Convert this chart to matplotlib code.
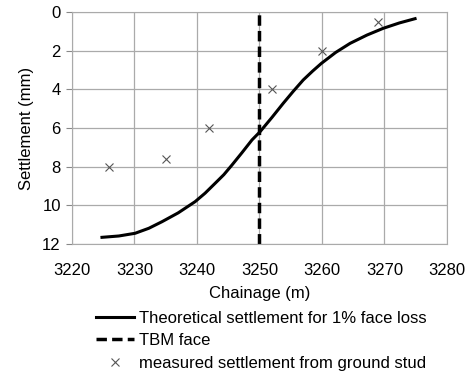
import numpy as np
import matplotlib.pyplot as plt

plt.rcParams['font.family'] = ['Liberation Sans', 'DejaVu Sans']
plt.rcParams['font.size'] = 12

# theoretical settlement curve
chain_theory = [3224.8, 3227.5, 3230.1, 3232.3, 3234.4, 3237.0, 3239.7, 3241.3,
                3242.9, 3244.3, 3245.6, 3247.2, 3248.8, 3250.1, 3252.0, 3253.8,
                3255.4, 3257.0, 3258.5, 3259.9, 3262.2, 3264.5, 3267.2, 3269.8,
                3272.4, 3274.9]
settle_theory = [11.67, 11.6, 11.46, 11.2, 10.86, 10.4, 9.82, 9.38,
                 8.87, 8.42, 7.92, 7.28, 6.62, 6.19, 5.45, 4.72,
                 4.1, 3.51, 3.05, 2.65, 2.08, 1.61, 1.18, 0.83,
                 0.55, 0.33]

# TBM face position
tbm_face = 3250

# measured settlement from ground stud
chain_meas = [3226, 3235, 3242, 3252, 3260, 3269]
settle_meas = [8.0, 7.6, 6.0, 4.0, 2.0, 0.5]

fig = plt.figure(figsize=(4.68, 3.79), dpi=100)
ax = fig.add_axes([0.1538, 0.357, 0.8012, 0.6105])

ax.plot(chain_theory, settle_theory, color='k', lw=2.2,
        label='Theoretical settlement for 1% face loss')
ax.axvline(tbm_face, color='k', lw=2.5, ls=(0, (3, 1.5)), label='TBM face')
ax.plot(chain_meas, settle_meas, ls='none', marker='x', ms=6, mew=0.8,
        color='#555555', label='measured settlement from ground stud')

ax.set_xlim(3220, 3280)
ax.set_ylim(12, 0)
ax.set_xticks(np.arange(3220, 3281, 10))
ax.set_yticks(np.arange(0, 13, 2))
ax.grid(color='#aaaaaa', lw=0.9)
ax.set_axisbelow(True)
for s in ax.spines.values():
    s.set_color('#aaaaaa')
ax.tick_params(axis='x', length=0, pad=14)
ax.tick_params(axis='y', length=4, color='#888888', pad=4)

ax.set_xlabel('Chainage (m)', labelpad=6)
ax.set_ylabel('Settlement (mm)', labelpad=6)

fig.legend(loc='upper left', bbox_to_anchor=(0.205, 0.18), frameon=False,
           handlelength=2.3, handletextpad=0.3, labelspacing=0.45,
           borderaxespad=0, borderpad=0)

fig.savefig('out.png', dpi=100)
